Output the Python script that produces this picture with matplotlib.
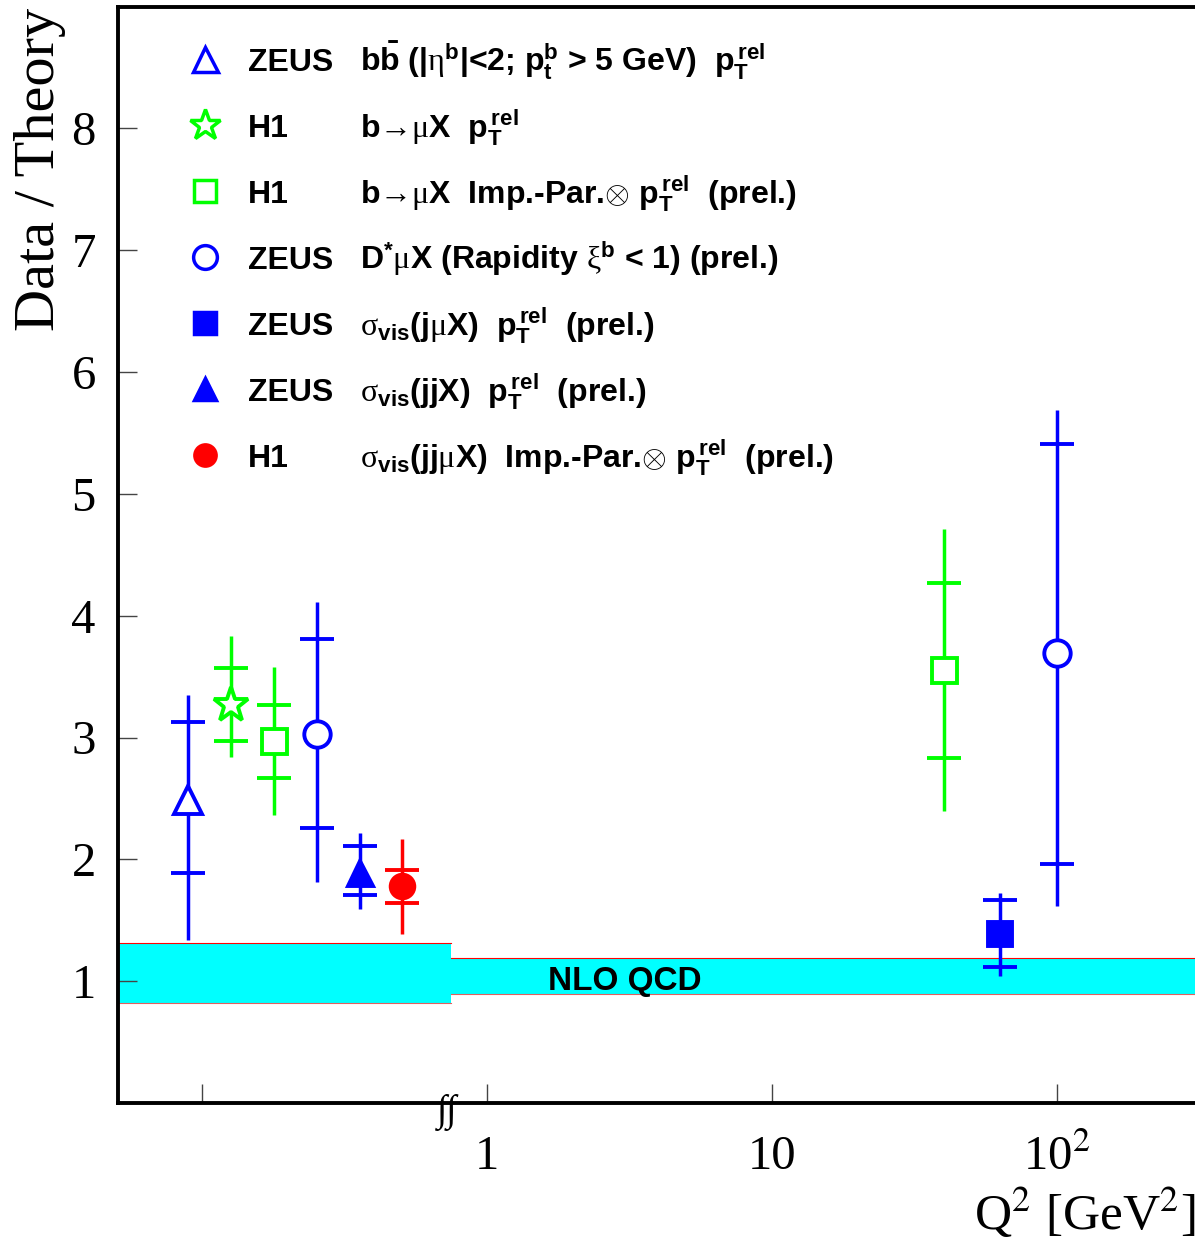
import numpy as np
import matplotlib
matplotlib.use('Agg')
import matplotlib.pyplot as plt
import matplotlib.transforms as mtransforms

plt.rcParams['font.family'] = ['Liberation Serif', 'DejaVu Serif']
plt.rcParams['mathtext.fontset'] = 'stix'
plt.rcParams['mathtext.rm'] = 'Liberation Sans:bold'
plt.rcParams['mathtext.it'] = 'Liberation Sans:bold'
plt.rcParams['mathtext.bf'] = 'Liberation Sans:bold'
plt.rcParams['mathtext.sf'] = 'Liberation Serif'

BLUE = '#0000ff'
GREEN = '#00ff00'
RED = '#ff0000'

# --- data: ratio data / NLO theory vs Q^2 (photoproduction points sit left of the break)
# ZEUS bb-bar, open triangle
zeus_bb_x = [0.089]
zeus_bb_y = [2.49]
zeus_bb_stat = [[1.89], [3.13]]   # inner error (low, high)
zeus_bb_tot = [[1.34], [3.35]]    # total error (low, high)

# H1 b->muX pTrel, star
h1_ptrel_x = [0.126]
h1_ptrel_y = [3.27]
h1_ptrel_stat = [[2.97], [3.57]]
h1_ptrel_tot = [[2.84], [3.83]]

# H1 b->muX Imp.-Par. x pTrel, open square
h1_ip_x = [0.179, 40]
h1_ip_y = [2.97, 3.55]
h1_ip_stat = [[2.67, 2.83], [3.27, 4.27]]
h1_ip_tot = [[2.36, 2.40], [3.58, 4.71]]

# ZEUS D* mu X, open circle
zeus_dmu_x = [0.253, 100]
zeus_dmu_y = [3.03, 3.69]
zeus_dmu_stat = [[2.26, 1.96], [3.81, 5.41]]
zeus_dmu_tot = [[1.81, 1.62], [4.11, 5.69]]

# ZEUS sigma_vis(j mu X), full square
zeus_jmu_x = [63]
zeus_jmu_y = [1.39]
zeus_jmu_stat = [[1.12], [1.665]]
zeus_jmu_tot = [[1.04], [1.72]]

# ZEUS sigma_vis(jjX), full triangle
zeus_jj_x = [0.358]
zeus_jj_y = [1.89]
zeus_jj_stat = [[1.71], [2.11]]
zeus_jj_tot = [[1.59], [2.22]]

# H1 sigma_vis(jj mu X), full circle
h1_jjmu_x = [0.503]
h1_jjmu_y = [1.78]
h1_jjmu_stat = [[1.64], [1.91]]
h1_jjmu_tot = [[1.39], [2.17]]

# NLO QCD band: photoproduction part and DIS part
band_x = [0.0507, 0.747, 305]
band_lo = [0.817, 0.893]
band_hi = [1.312, 1.194]

exp_labels = ['ZEUS', 'H1', 'H1', 'ZEUS', 'ZEUS', 'ZEUS', 'H1']
descriptions = [
    r'b$\bar{b}$ (|$\mathsf{\eta}^{b}$|<2; p$_{t}^{b}$ > 5 GeV)  p$_{T}^{\,rel}$',
    r'b→$\mathsf{\mu}$X  p$_{T}^{\,rel}$',
    r'b→$\mathsf{\mu}$X  Imp.-Par.$\mathsf{{\otimes}}$ p$_{T}^{\,rel}$  (prel.)',
    r'D$^{*}\mathsf{\mu}$X (Rapidity $\mathsf{\xi}^{b}$ < 1) (prel.)',
    r'$\mathsf{\sigma}_{vis}$(j$\mathsf{\mu}$X)  p$_{T}^{\,rel}$  (prel.)',
    r'$\mathsf{\sigma}_{vis}$(jjX)  p$_{T}^{\,rel}$  (prel.)',
    r'$\mathsf{\sigma}_{vis}$(jj$\mathsf{\mu}$X)  Imp.-Par.$\mathsf{{\otimes}}$ p$_{T}^{\,rel}$  (prel.)',
]

series = [
    (zeus_bb_x, zeus_bb_y, zeus_bb_stat, zeus_bb_tot, dict(marker='^', color=BLUE, mfc='white', ms=20)),
    (h1_ptrel_x, h1_ptrel_y, h1_ptrel_stat, h1_ptrel_tot, dict(marker='*', color=GREEN, mfc='white', ms=26)),
    (h1_ip_x, h1_ip_y, h1_ip_stat, h1_ip_tot, dict(marker='s', color=GREEN, mfc='white', ms=18)),
    (zeus_dmu_x, zeus_dmu_y, zeus_dmu_stat, zeus_dmu_tot, dict(marker='o', color=BLUE, mfc='white', ms=19)),
    (zeus_jmu_x, zeus_jmu_y, zeus_jmu_stat, zeus_jmu_tot, dict(marker='s', color=BLUE, mfc=BLUE, ms=17)),
    (zeus_jj_x, zeus_jj_y, zeus_jj_stat, zeus_jj_tot, dict(marker='^', color=BLUE, mfc=BLUE, ms=18)),
    (h1_jjmu_x, h1_jjmu_y, h1_jjmu_stat, h1_jjmu_tot, dict(marker='o', color=RED, mfc=RED, ms=17)),
]

fig = plt.figure(figsize=(11.95, 12.45), dpi=100)
ax = fig.add_axes([118 / 1195, (1245 - 1103) / 1245, (1195 - 118) / 1195, (1103 - 6.5) / 1245])
ax.set_xscale('log')
ax.set_xlim(band_x[0], band_x[-1])
ax.set_ylim(0, 9)

# band
ax.fill_between(band_x[0:2], band_lo[0], band_hi[0], color='#00ffff', lw=0, zorder=1)
ax.fill_between(band_x[1:3], band_lo[1], band_hi[1], color='#00ffff', lw=0, zorder=1)
for i in range(2):
    ax.plot(band_x[i:i + 2], [band_hi[i]] * 2, color=RED, lw=0.8, zorder=1.5)
    ax.plot(band_x[i:i + 2], [band_lo[i]] * 2, color='#e06060', lw=0.8, zorder=1.5)
ax.text(3.05, 0.995, 'NLO QCD', family='Liberation Sans', weight='bold', fontsize=24,
        ha='center', va='center', zorder=2)

# points
for x, y, stat, tot, st in series:
    y = np.array(y)
    tot_err = [y - np.array(tot[0]), np.array(tot[1]) - y]
    stat_err = [y - np.array(stat[0]), np.array(stat[1]) - y]
    ax.errorbar(x, y, yerr=tot_err, fmt='none', ecolor=st['color'], elinewidth=2.5, zorder=3)
    ax.errorbar(x, y, yerr=stat_err, fmt='none', ecolor=st['color'], elinewidth=0,
                capsize=12, capthick=2.8, zorder=3)
    ax.plot(x, y, ls='none', marker=st['marker'], ms=st['ms'], mec=st['color'],
            mfc=st['mfc'], mew=2.8, zorder=4)

# legend
row_y = 1 - (59 - 6.5) / 1096.5
row_step = 66 / 1096.5
for i, (lab, desc) in enumerate(zip(exp_labels, descriptions)):
    yy = row_y - i * row_step
    st = series[i][4]
    ax.plot([0.0808], [yy], transform=ax.transAxes, ls='none', marker=st['marker'],
            ms=st['ms'] * 0.9, mec=st['color'], mfc=st['mfc'], mew=2.5, clip_on=False)
    base = yy - 12 / 1096.5
    ax.text(0.1207, base, lab, transform=ax.transAxes, family='Liberation Sans',
            weight='bold', fontsize=23, va='baseline', ha='left')
    ax.text(0.2247, base, desc, transform=ax.transAxes,
            family=['Liberation Sans', 'DejaVu Sans'],
            weight='bold', fontsize=23, va='baseline', ha='left', math_fontfamily='custom')

# axes style
for side in ['left', 'bottom', 'top']:
    ax.spines[side].set_linewidth(2.8)
ax.spines['right'].set_visible(False)
ax.set_yticks([1, 2, 3, 4, 5, 6, 7, 8])
ax.set_xticks([0.1, 1, 10, 100])
ax.set_xticklabels(['', '1', '10', r'10$^{2}$'])
ax.minorticks_off()
ax.tick_params(axis='both', which='major', direction='in', length=14, width=1,
               color='#444444', labelsize=35)
ax.tick_params(axis='y', pad=16)
ax.tick_params(axis='x', pad=23)

# axis break mark
trans = mtransforms.blended_transform_factory(ax.transData, ax.transAxes)
ax.text(0.725, -0.009, '\u222b\u222b', transform=trans, fontsize=27, ha='center', va='center',
        family=['Liberation Serif', 'DejaVu Serif'], clip_on=False)

fig.text(40 / 1195, 1 - 8 / 1245, 'Data / Theory', rotation=90, ha='center', va='top',
         fontsize=42)
fig.text(1.0, (1245 - 1230) / 1245, r'Q$^{2}$ [GeV$^{2}$]', ha='right', va='baseline',
         fontsize=37)

fig.savefig('out.png', dpi=100, facecolor='white')
